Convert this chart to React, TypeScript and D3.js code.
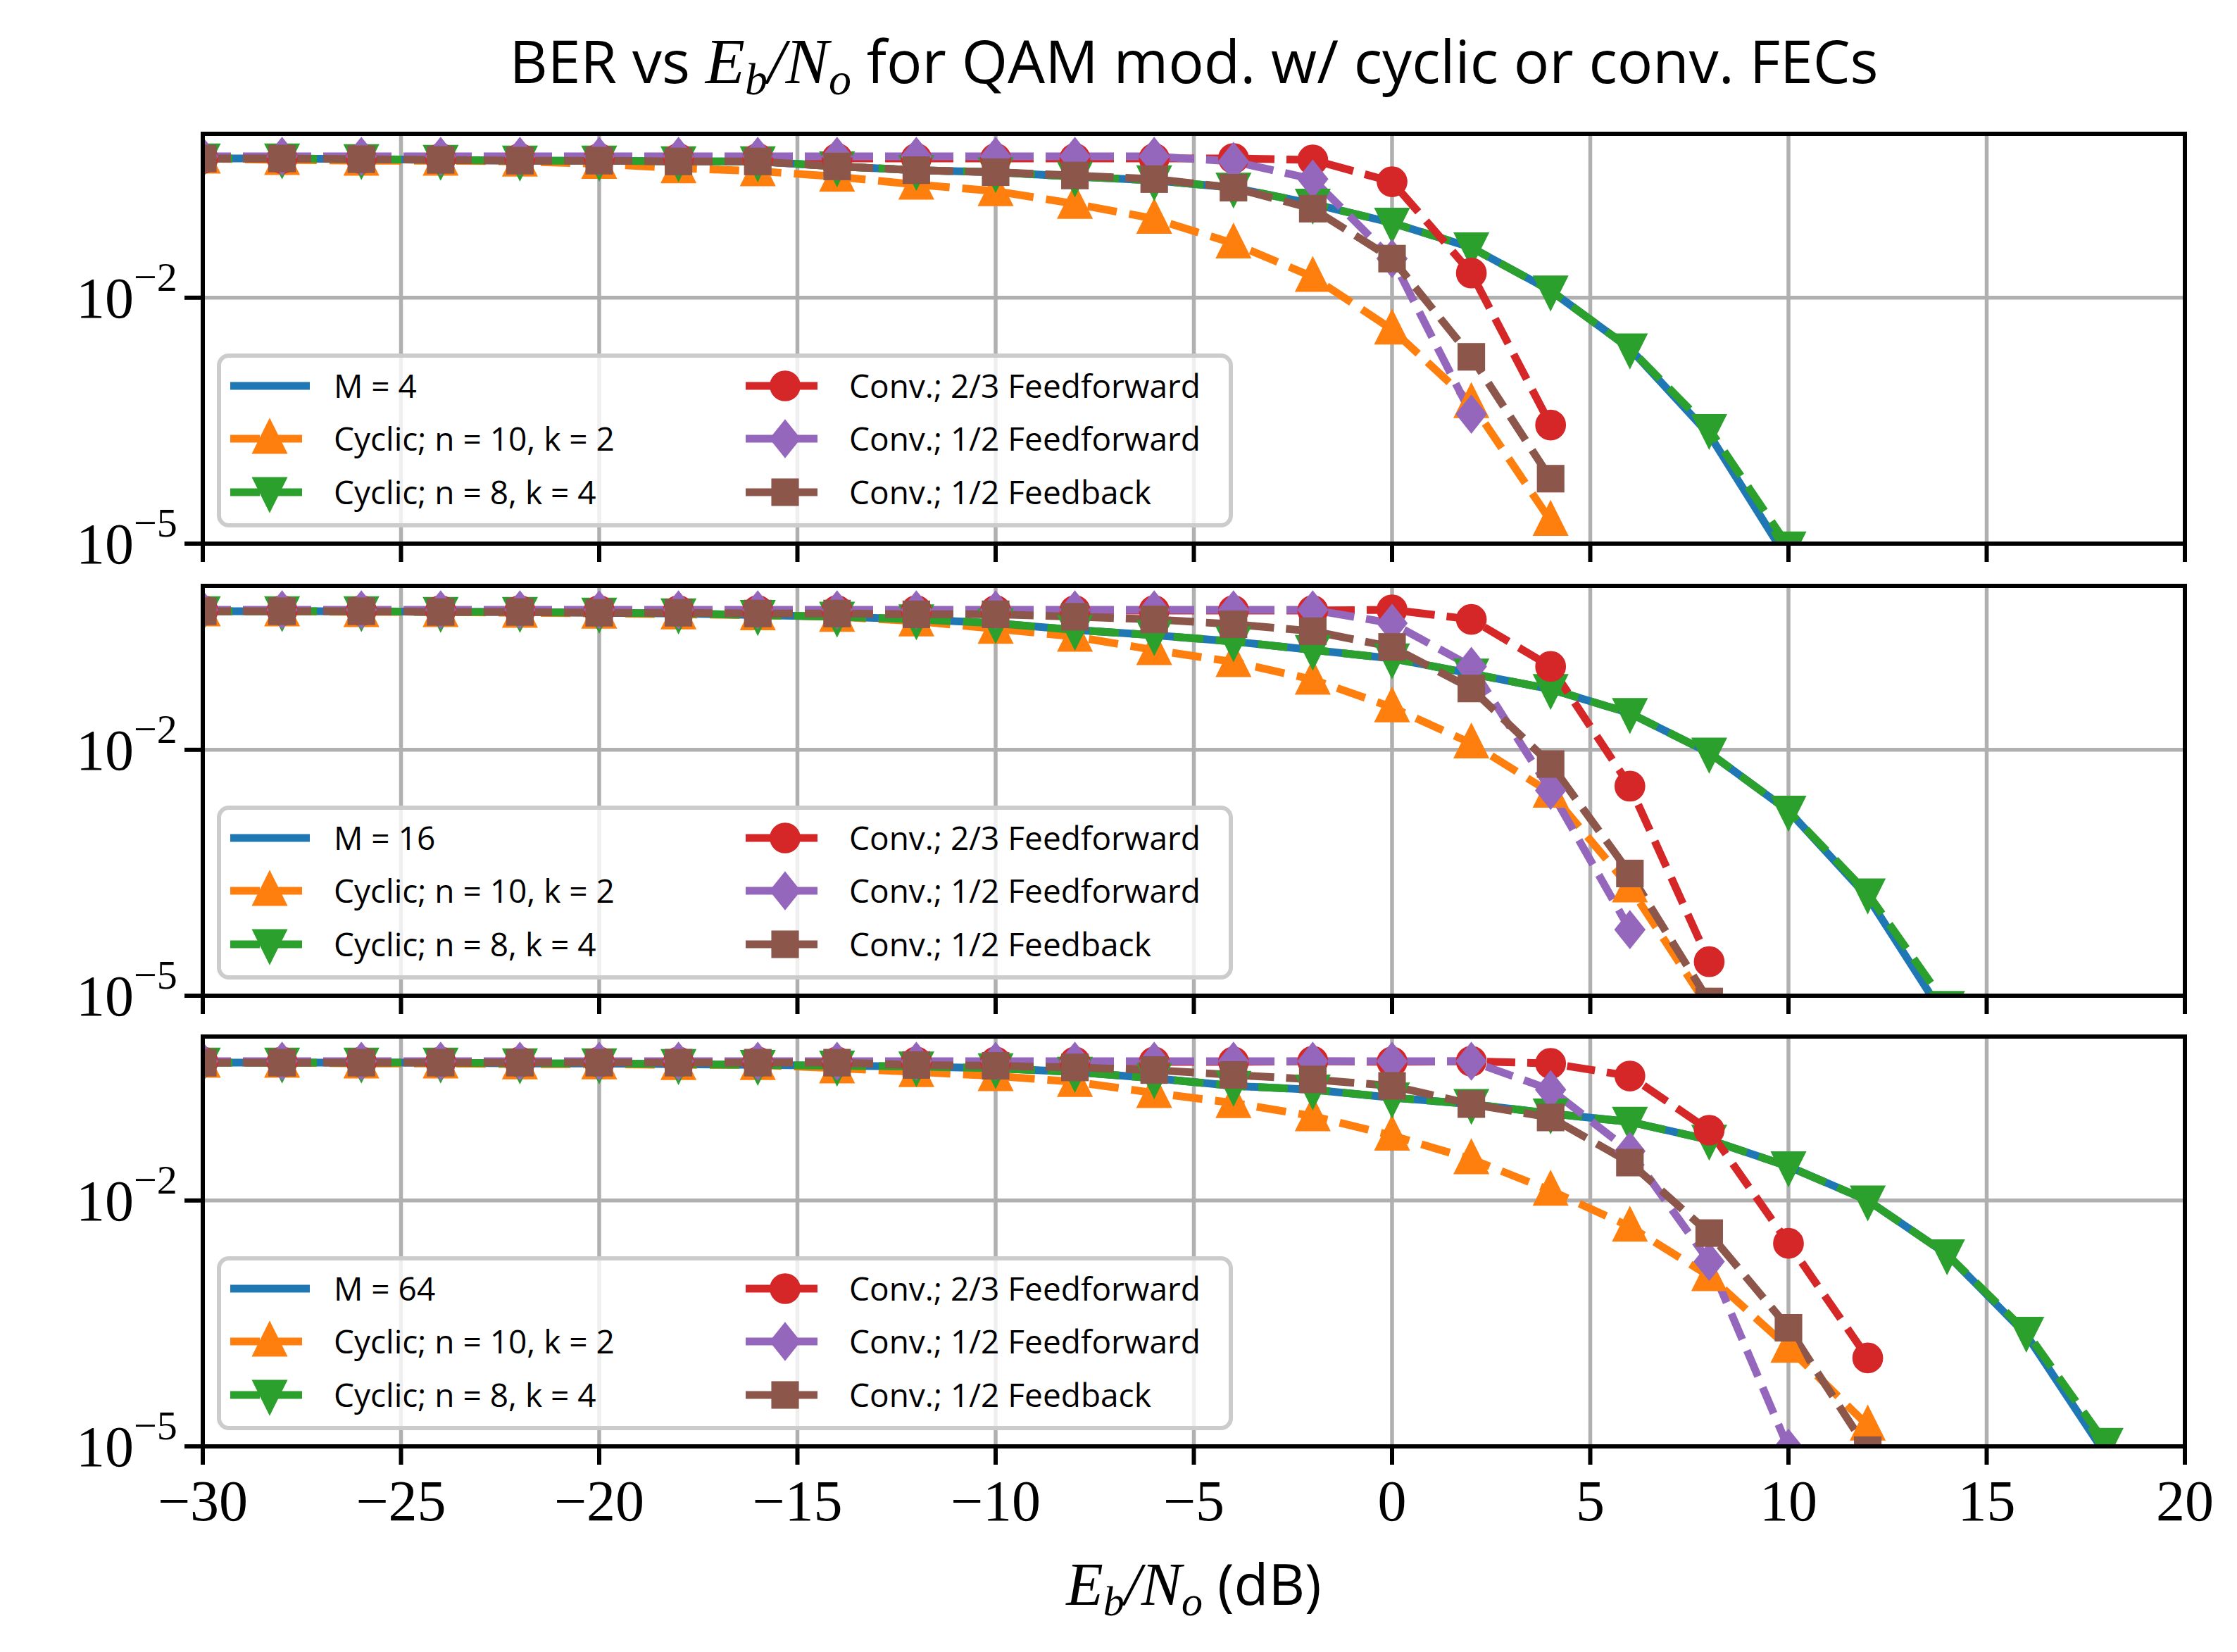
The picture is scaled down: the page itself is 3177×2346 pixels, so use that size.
import React from 'react';
import * as d3 from 'd3';

// Eb/No grid in dB, each series uses a prefix of it
const ebn0 = d3.range(-30, 19, 2);

const mLabels = ['M = 4', 'M = 16', 'M = 64'];
const seriesLabels = [
  '',
  'Cyclic; n = 10, k = 2',
  'Cyclic; n = 8, k = 4',
  'Conv.; 2/3 Feedforward',
  'Conv.; 1/2 Feedforward',
  'Conv.; 1/2 Feedback',
];
const colors = ['#1f77b4', '#ff7f0e', '#2ca02c', '#d62728', '#9467bd', '#8c564b'];
const markers = ['none', 'tri-up', 'tri-down', 'circle', 'diamond', 'square'];
const xTicks = [-30, -25, -20, -15, -10, -5, 0, 5, 10, 15, 20];

// M = 4
const theory4 = [0.5, 0.5, 0.49, 0.48, 0.47, 0.47, 0.46, 0.46, 0.4, 0.36, 0.34, 0.3, 0.27, 0.22, 0.14, 0.082, 0.041, 0.0122, 0.0024, 2.15e-4, 6.2e-6];
const cyc102_4 = [0.5, 0.48, 0.47, 0.47, 0.46, 0.43, 0.38, 0.35, 0.3, 0.24, 0.2, 0.14, 0.092, 0.046, 0.018, 0.0041, 5.2e-4, 1.9e-5];
const cyc84_4 = [0.5, 0.5, 0.49, 0.48, 0.47, 0.47, 0.46, 0.46, 0.4, 0.36, 0.34, 0.3, 0.27, 0.22, 0.14, 0.082, 0.041, 0.0122, 0.0024, 2.5e-4, 9.2e-6];
const conv23ff_4 = [0.5, 0.5, 0.5, 0.5, 0.5, 0.5, 0.5, 0.5, 0.5, 0.5, 0.5, 0.5, 0.5, 0.5, 0.48, 0.26, 0.02, 2.8e-4];
const conv12ff_4 = [0.53, 0.53, 0.53, 0.53, 0.53, 0.53, 0.53, 0.53, 0.53, 0.53, 0.53, 0.53, 0.53, 0.46, 0.28, 0.03, 3.8e-4];
const conv12fb_4 = [0.5, 0.5, 0.49, 0.48, 0.47, 0.47, 0.46, 0.46, 0.4, 0.36, 0.34, 0.31, 0.28, 0.22, 0.122, 0.03, 0.0019, 6.2e-5];

// M = 16
const theory16 = [0.49, 0.49, 0.49, 0.48, 0.48, 0.47, 0.46, 0.44, 0.42, 0.39, 0.35, 0.29, 0.25, 0.21, 0.165, 0.13, 0.085, 0.055, 0.028, 0.0092, 0.0018, 1.6e-4, 5e-6];
const cyc102_16 = [0.49, 0.49, 0.48, 0.48, 0.47, 0.46, 0.45, 0.44, 0.42, 0.37, 0.3, 0.24, 0.165, 0.118, 0.072, 0.033, 0.012, 0.003, 2.1e-4, 7e-6];
const cyc84_16 = [0.49, 0.49, 0.49, 0.48, 0.48, 0.47, 0.46, 0.44, 0.42, 0.39, 0.35, 0.29, 0.25, 0.21, 0.165, 0.13, 0.085, 0.055, 0.028, 0.0092, 0.0018, 1.76e-4, 7.5e-6];
const conv23ff_16 = [0.5, 0.5, 0.5, 0.5, 0.5, 0.5, 0.5, 0.5, 0.5, 0.5, 0.5, 0.5, 0.5, 0.5, 0.5, 0.51, 0.39, 0.104, 0.0036, 2.6e-5];
const conv12ff_16 = [0.51, 0.51, 0.51, 0.51, 0.51, 0.51, 0.51, 0.51, 0.51, 0.51, 0.51, 0.51, 0.51, 0.51, 0.51, 0.35, 0.104, 0.0032, 6.4e-5];
const conv12fb_16 = [0.49, 0.49, 0.49, 0.48, 0.48, 0.47, 0.47, 0.46, 0.46, 0.45, 0.45, 0.42, 0.39, 0.34, 0.28, 0.18, 0.056, 0.0067, 3.1e-4, 8.5e-6];

// M = 64
const theory64 = [0.48, 0.48, 0.48, 0.48, 0.47, 0.47, 0.46, 0.45, 0.44, 0.43, 0.41, 0.37, 0.31, 0.25, 0.225, 0.18, 0.15, 0.115, 0.091, 0.055, 0.026, 0.01, 0.0022, 2.3e-4, 8e-6];
const cyc102_64 = [0.48, 0.48, 0.47, 0.47, 0.46, 0.46, 0.45, 0.45, 0.41, 0.37, 0.33, 0.28, 0.205, 0.155, 0.107, 0.062, 0.032, 0.0132, 0.0048, 0.0012, 1.6e-4, 1.8e-5];
const cyc84_64 = [0.48, 0.48, 0.48, 0.48, 0.47, 0.47, 0.46, 0.45, 0.44, 0.43, 0.41, 0.37, 0.31, 0.25, 0.225, 0.18, 0.15, 0.115, 0.091, 0.055, 0.026, 0.01, 0.0022, 2.5e-4, 1.1e-5];
const conv23ff_64 = [0.49, 0.49, 0.49, 0.49, 0.49, 0.49, 0.49, 0.49, 0.49, 0.49, 0.49, 0.49, 0.49, 0.49, 0.5, 0.49, 0.5, 0.47, 0.33, 0.072, 0.003, 1.2e-4];
const conv12ff_64 = [0.5, 0.5, 0.5, 0.5, 0.5, 0.5, 0.5, 0.5, 0.5, 0.5, 0.5, 0.5, 0.5, 0.5, 0.5, 0.5, 0.5, 0.225, 0.04, 0.0018, 9.5e-6];
const conv12fb_64 = [0.48, 0.48, 0.48, 0.48, 0.48, 0.48, 0.48, 0.48, 0.48, 0.45, 0.44, 0.42, 0.39, 0.34, 0.3, 0.25, 0.15, 0.103, 0.029, 0.004, 2.8e-4, 9e-6];

const panels = [
  [theory4, cyc102_4, cyc84_4, conv23ff_4, conv12ff_4, conv12fb_4],
  [theory16, cyc102_16, cyc84_16, conv23ff_16, conv12ff_16, conv12fb_16],
  [theory64, cyc102_64, cyc84_64, conv23ff_64, conv12ff_64, conv12fb_64],
];

const W = 3177;
const H = 2346;
const left = 288;
const right = 3103;
const panelTops = [190, 832, 1472];
const panelH = 582;
const lw = 11;
const ms = 46;

const x = d3.scaleLinear().domain([-30, 20]).range([left, right]);

const Marker: React.FC<{ kind: string; cx: number; cy: number; color: string }> = ({ kind, cx, cy, color }) => {
  const s = ms / 2;
  const common = { fill: color, stroke: color, strokeWidth: 6, strokeLinejoin: 'miter' as const };
  if (kind === 'circle') return <circle cx={cx} cy={cy} r={s * 0.82} {...common} />;
  if (kind === 'square') return <rect x={cx - s * 0.72} y={cy - s * 0.72} width={s * 1.44} height={s * 1.44} {...common} />;
  if (kind === 'diamond')
    return <path d={`M${cx},${cy - s}L${cx + s * 0.8},${cy}L${cx},${cy + s}L${cx - s * 0.8},${cy}Z`} {...common} />;
  if (kind === 'tri-up')
    return <path d={`M${cx},${cy - s}L${cx + s * 0.9},${cy + s * 0.8}L${cx - s * 0.9},${cy + s * 0.8}Z`} {...common} />;
  if (kind === 'tri-down')
    return <path d={`M${cx},${cy + s}L${cx + s * 0.9},${cy - s * 0.8}L${cx - s * 0.9},${cy - s * 0.8}Z`} {...common} />;
  return null;
};

const serif = 'Liberation Serif, DejaVu Serif, serif';
const sans = 'Open Sans, DejaVu Sans, sans-serif';

const Panel: React.FC<{ idx: number }> = ({ idx }) => {
  const top = panelTops[idx];
  const bottom = top + panelH;
  const y = d3.scaleLog().domain([1e-5, 1]).range([bottom, top]);
  const series = panels[idx];
  const line = d3
    .line<number>()
    .x((_, i) => x(ebn0[i]))
    .y((d) => y(d));
  const clipId = `clip-${idx}`;
  const legX = 311;
  const legY = top + 315;
  const rowY = [43, 118, 194];
  const colX = [16, 748];
  return (
    <g>
      <defs>
        <clipPath id={clipId}>
          <rect x={left} y={top} width={right - left} height={panelH} />
        </clipPath>
      </defs>
      {xTicks.map((t) => (
        <line key={t} x1={x(t)} x2={x(t)} y1={top} y2={bottom} stroke="#b0b0b0" strokeWidth={5.5} />
      ))}
      <line x1={left} x2={right} y1={y(1e-2)} y2={y(1e-2)} stroke="#b0b0b0" strokeWidth={5.5} />
      <g clipPath={`url(#${clipId})`}>
        {series.map((vals, si) => (
          <path
            key={si}
            d={line(vals) ?? ''}
            fill="none"
            stroke={colors[si]}
            strokeWidth={lw}
            strokeDasharray={si === 0 ? undefined : si <= 2 ? '42 18' : '40 17'}
          />
        ))}
        {series.map((vals, si) =>
          vals.map((v, i) => <Marker key={`${si}-${i}`} kind={markers[si]} cx={x(ebn0[i])} cy={y(v)} color={colors[si]} />)
        )}
      </g>
      <rect x={left} y={top} width={right - left} height={panelH} fill="none" stroke="#000" strokeWidth={6} />
      {xTicks.map((t) => (
        <line key={t} x1={x(t)} x2={x(t)} y1={bottom} y2={bottom + 26} stroke="#000" strokeWidth={6} />
      ))}
      {[1e-2, 1e-5].map((t) => (
        <g key={t}>
          <line x1={left - 26} x2={left} y1={y(t)} y2={y(t)} stroke="#000" strokeWidth={6} />
          <text x={left - 98} y={y(t) + 28} textAnchor="end" fontFamily={serif} fontSize={82}>
            10
          </text>
          <text x={left - 98} y={y(t) - 10} fontFamily={serif} fontSize={58}>
            −{t === 1e-2 ? 2 : 5}
          </text>
        </g>
      ))}
      {/* legend */}
      <rect x={legX} y={legY} width={1437} height={241} rx={14} fill="#fff" fillOpacity={0.8} stroke="#cccccc" strokeWidth={6} />
      {seriesLabels.map((lab, si) => {
        const col = si < 3 ? 0 : 1;
        const row = si % 3;
        const hx = legX + colX[col];
        const hy = legY + rowY[row];
        const label = si === 0 ? mLabels[idx] : lab;
        return (
          <g key={si}>
            <line
              x1={hx}
              x2={hx + 113}
              y1={hy}
              y2={hy}
              stroke={colors[si]}
              strokeWidth={lw}
              strokeDasharray={si === 0 ? undefined : '42 18'}
            />
            <Marker kind={markers[si]} cx={hx + 56} cy={hy} color={colors[si]} />
            <text x={hx + 147} y={hy + 17} fontFamily={sans} fontSize={46}>
              {label}
            </text>
          </g>
        );
      })}
    </g>
  );
};

export default function App() {
  const lastBottom = panelTops[2] + panelH;
  return (
    <svg width={W} height={H} style={{ position: 'absolute', left: 0, top: 0, background: '#fff' }}>
      <rect width={W} height={H} fill="#fff" />
      <text x={(left + right) / 2} y={118} textAnchor="middle" fontFamily={sans} fontSize={84}>
        BER vs{' '}
        <tspan fontFamily={serif} fontStyle="italic" fontSize={92}>E</tspan>
        <tspan fontFamily={serif} fontStyle="italic" fontSize={64} dy={16}>b</tspan>
        <tspan fontFamily={serif} fontStyle="italic" fontSize={92} dy={-16}>/N</tspan>
        <tspan fontFamily={serif} fontStyle="italic" fontSize={64} dy={16}>o</tspan>
        <tspan dy={-16}> for QAM mod. w/ cyclic or conv. FECs</tspan>
      </text>
      {[0, 1, 2].map((i) => (
        <Panel key={i} idx={i} />
      ))}
      {xTicks.map((t) => (
        <text key={t} x={x(t)} y={lastBottom + 105} textAnchor="middle" fontFamily={serif} fontSize={82}>
          {t < 0 ? `−${-t}` : t}
        </text>
      ))}
      <text x={(left + right) / 2} y={lastBottom + 225} textAnchor="middle" fontFamily={sans} fontSize={80}>
        <tspan fontFamily={serif} fontStyle="italic" fontSize={86}>E</tspan>
        <tspan fontFamily={serif} fontStyle="italic" fontSize={60} dy={15}>b</tspan>
        <tspan fontFamily={serif} fontStyle="italic" fontSize={86} dy={-15}>/N</tspan>
        <tspan fontFamily={serif} fontStyle="italic" fontSize={60} dy={15}>o</tspan>
        <tspan dy={-15}> (dB)</tspan>
      </text>
    </svg>
  );
}
